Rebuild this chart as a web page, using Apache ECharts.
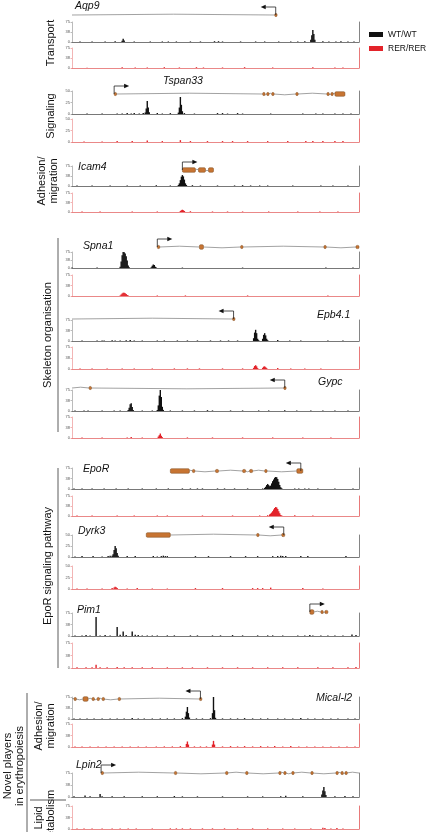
<!DOCTYPE html>
<html><head><meta charset="utf-8">
<script src="https://cdn.jsdelivr.net/npm/echarts@6/dist/echarts.min.js"></script>
<style>html,body{margin:0;padding:0;background:#fff}#c{width:430px;height:832px}</style>
</head><body><div id="c"></div>
<script>
// ---------------- DATA ----------------
const genes = ['Aqp9','Tspan33','Icam4','Spna1','Epb4.1','Gypc','EpoR','Dyrk3','Pim1','Mical-l2','Lpin2'];
// genomic window is expressed in bins 0..286
const binMax = 286;
// gene body span [from, to]
const geneSpan = [[0,203],[42,272],[110,141],[85,286],[0,161],[0,212],[98,230],[74,212],[237,255],[0,129],[29,286]];
// transcription start site [position, strand]
const geneTss = [[203,-1],[42,1],[110,1],[85,1],[161,-1],[212,-1],[228,-1],[211,-1],[237,1],[128,-1],[29,1]];
// exons [start, end, thick]
const geneExons = [
  [[202,204,0]],
  [[42,44,0],[190,192,0],[194,196,0],[199,201,0],[223,225,0],[254,256,0],[258,260,0],[262,272,1]],
  [[110,123,1],[126,133,1],[136,141,1]],
  [[85,87,0],[127,131,1],[168,170,0],[251,253,0],[283,286,0]],
  [[160,162,0]],
  [[17,18,0],[211,213,0]],
  [[98,117,1],[120,122,0],[143,146,0],[170,173,0],[177,180,0],[192,194,0],[224,230,1]],
  [[74,98,1],[184,186,0],[209,212,0]],
  [[237,241,1],[248,249,0],[252,255,0]],
  [[2,4,0],[11,16,1],[20,21,0],[25,26,0],[30,31,0],[46,47,0],[127,129,0]],
  [[29,31,0],[102,104,0],[153,154,0],[173,175,0],[206,207,0],[211,213,0],[219,220,0],[238,239,0],[263,264,0],[268,269,0],[272,273,0]]
];
const yMax = [75,50,75,75,75,75,75,50,75,75,75];
const tickLabels75 = ['0','38','75'];
const tickLabels50 = ['0','25','50'];
const seriesNames = ['WT/WT','RER/RER'];

// signal [bin, value]
const aqp9WT = [[8,2],[20,2],[33,2],[43,3],[50,5],[51,12],[52,6],[62,2],[78,2],[90,2],[96,2],[104,2],[118,2],[128,2],[142,3],[146,3],[150,2],[168,2],[183,2],[192,2],[206,2],[218,2],[225,2],[232,3],[238,8],[239,25],[240,45],[241,30],[242,8],[250,3],[256,2],[263,2],[268,3],[275,2],[281,2]];
const aqp9RER = [[15,1],[50,3],[63,2],[75,2],[92,3],[107,2],[124,3],[131,2],[150,2],[172,3],[200,2],[240,3],[262,2],[270,2]];
const tspan33WT = [[15,1],[30,1],[45,1],[50,1],[55,2],[59,1],[62,2],[67,1],[71,2],[73,3],[74,12],[75,28],[76,14],[77,4],[85,2],[90,1],[98,2],[106,3],[107,14],[108,37],[109,20],[110,6],[112,2],[122,1],[145,2],[150,2],[155,1],[165,2],[170,1],[198,1],[230,1],[243,1],[250,1],[262,1],[270,1],[278,1]];
const tspan33RER = [[12,1],[30,1],[45,2],[60,2],[75,3],[90,2],[108,4],[118,2],[135,2],[150,2],[160,2],[175,2],[195,2],[215,2],[233,2],[240,2],[250,2],[262,2],[270,2]];
const icam4WT = [[5,2],[20,2],[38,2],[55,2],[68,2],[84,3],[98,2],[106,4],[107,10],[108,22],[109,35],[110,41],[111,36],[112,24],[113,10],[114,4],[120,3],[128,2],[145,2],[162,2],[170,3],[178,2],[187,2],[195,2],[220,2],[248,2],[260,2],[275,2]];
const icam4RER = [[10,2],[28,2],[60,2],[85,2],[108,4],[109,7],[110,9],[111,7],[112,4],[118,3],[140,2],[155,2],[170,2],[196,2],[225,2],[247,2],[265,2]];
const spna1WT = [[0,2],[25,2],[48,6],[49,30],[50,60],[51,75],[52,74],[53,68],[54,55],[55,35],[56,12],[57,4],[79,4],[80,10],[81,16],[82,14],[83,6],[84,2],[110,2],[170,2],[253,2],[280,2]];
const spna1RER = [[48,2],[49,5],[50,9],[51,12],[52,12],[53,10],[54,7],[55,4],[56,2],[85,2],[113,2],[175,2],[255,2]];
const epb41WT = [[10,2],[25,2],[30,2],[32,2],[40,3],[43,2],[48,2],[54,3],[58,4],[62,2],[70,2],[85,2],[92,2],[105,2],[115,2],[125,2],[138,2],[148,2],[156,2],[165,2],[181,10],[182,30],[183,40],[184,28],[185,8],[186,3],[190,8],[191,22],[192,28],[193,20],[194,8],[195,3],[205,4],[217,2],[228,2],[255,2],[270,2]];
const epb41RER = [[8,2],[20,2],[35,2],[50,2],[62,2],[80,2],[102,2],[115,2],[127,2],[150,2],[170,2],[181,4],[182,10],[183,13],[184,9],[185,3],[190,4],[191,8],[192,9],[193,6],[194,3],[205,3],[218,2],[232,2],[248,2]];
const gypcWT = [[3,2],[12,2],[16,2],[30,2],[42,2],[48,2],[56,4],[57,12],[58,24],[59,28],[60,14],[61,4],[70,2],[80,2],[85,4],[86,20],[87,55],[88,75],[89,50],[90,15],[91,4],[98,2],[110,2],[122,2],[135,3],[140,2],[158,2],[170,2],[186,2],[196,2],[212,3],[224,2],[238,2],[250,2],[262,2],[275,2]];
const gypcRER = [[10,2],[30,2],[55,2],[59,4],[70,2],[86,5],[87,10],[88,16],[89,8],[90,3],[115,2],[140,2],[170,2],[200,2],[230,2],[258,2]];
const eporWT = [[2,2],[10,2],[20,2],[32,2],[44,2],[56,2],[70,2],[84,2],[96,2],[110,2],[118,2],[125,2],[130,2],[145,2],[152,2],[162,2],[175,2],[190,2],[192,4],[193,8],[194,14],[195,18],[196,14],[197,10],[198,12],[199,20],[200,28],[201,34],[202,40],[203,43],[204,42],[205,36],[206,26],[207,14],[208,6],[209,3],[222,2],[226,2],[232,2],[236,2],[245,2],[262,2],[280,2]];
const eporRER = [[5,2],[20,2],[45,2],[62,2],[85,2],[95,2],[130,2],[160,2],[187,2],[195,3],[197,6],[198,9],[199,13],[200,18],[201,24],[202,30],[203,34],[204,32],[205,26],[206,18],[207,10],[208,4],[209,2],[222,3],[240,2]];
const dyrk3WT = [[3,1],[10,2],[21,2],[30,1],[36,2],[38,3],[40,3],[41,6],[42,16],[43,25],[44,20],[45,9],[46,3],[55,2],[63,2],[81,2],[85,1],[89,2],[91,3],[93,2],[95,2],[123,2],[136,2],[158,2],[173,2],[185,2],[200,2],[205,2],[208,3],[210,2],[213,2],[228,2],[235,2],[273,2]];
const dyrk3RER = [[5,1],[15,1],[30,1],[40,2],[42,3],[43,5],[44,4],[45,2],[55,1],[65,2],[80,1],[95,1],[123,2],[150,2],[180,2],[185,2],[190,2],[198,3],[230,2],[250,1]];
const pim1WT = [[3,2],[10,2],[14,3],[18,2],[24,62],[28,2],[33,3],[38,2],[45,29],[48,4],[51,15],[54,3],[60,15],[63,4],[66,3],[70,2],[75,2],[80,2],[85,2],[95,2],[102,2],[118,2],[125,2],[140,2],[148,2],[160,3],[170,2],[185,2],[195,2],[200,2],[210,2],[225,2],[232,2],[237,3],[240,2],[248,2],[255,2],[262,2],[270,2],[279,5],[283,3]];
const pim1RER = [[5,2],[14,2],[20,2],[24,10],[28,2],[35,2],[45,3],[52,2],[60,2],[70,2],[80,2],[95,2],[110,2],[120,2],[135,2],[150,2],[165,2],[180,2],[195,2],[210,2],[225,2],[245,2],[260,2],[275,2],[283,3]];
const micalWT = [[2,2],[8,2],[15,2],[22,2],[30,2],[38,2],[45,2],[52,2],[60,3],[66,2],[72,2],[80,2],[88,2],[95,2],[102,2],[110,3],[113,8],[114,25],[115,41],[116,20],[117,5],[124,2],[130,2],[138,3],[140,20],[141,75],[142,30],[143,4],[150,2],[158,2],[165,2],[172,3],[180,2],[188,2],[195,2],[205,2],[212,2],[220,2],[228,3],[235,2],[242,2],[250,2],[258,2],[265,2],[275,2],[282,2]];
const micalRER = [[3,2],[10,2],[18,2],[26,2],[34,2],[42,2],[50,2],[58,2],[66,2],[74,2],[84,2],[92,2],[100,2],[108,3],[114,10],[115,18],[116,8],[122,2],[128,2],[134,2],[140,8],[141,20],[142,8],[150,2],[158,3],[165,2],[172,3],[180,2],[188,3],[195,2],[202,3],[210,2],[218,3],[226,2],[234,2],[242,2],[250,2],[258,2],[266,2],[274,2],[282,2]];
const lpin2WT = [[2,2],[13,5],[18,2],[28,9],[30,2],[40,2],[52,2],[70,2],[85,2],[102,3],[110,2],[125,2],[150,2],[175,2],[190,2],[208,2],[213,4],[230,2],[249,8],[250,20],[251,31],[252,18],[253,6],[262,2],[272,3],[280,2]];
const lpin2RER = [[5,2],[12,2],[20,2],[30,2],[40,2],[48,2],[56,2],[64,2],[80,2],[98,2],[104,2],[110,2],[118,2],[130,2],[140,2],[152,2],[165,2],[180,2],[195,2],[210,2],[222,2],[238,2],[250,4],[252,3],[258,2],[264,3],[270,2]];

const wtData = [aqp9WT,tspan33WT,icam4WT,spna1WT,epb41WT,gypcWT,eporWT,dyrk3WT,pim1WT,micalWT,lpin2WT];
const rerData = [aqp9RER,tspan33RER,icam4RER,spna1RER,epb41RER,gypcRER,eporRER,dyrk3RER,pim1RER,micalRER,lpin2RER];

// ---------------- LAYOUT (pixels) ----------------
const PLOT_LEFT = 72, PLOT_W = 287;
const layout = [
  {g:15,  wt:[22,42],  rer:[48,68],  lx:75,  ly:7},
  {g:94,  wt:[91,114], rer:[119,142],lx:163, ly:82},
  {g:170, wt:[166,186],rer:[193,212],lx:78,  ly:168},
  {g:247, wt:[252,268],rer:[275,296],lx:83,  ly:247},
  {g:319, wt:[320,341],rer:[347,369],lx:317, ly:316},
  {g:388, wt:[390,411],rer:[417,438],lx:318, ly:383},
  {g:471, wt:[468,489],rer:[496,516],lx:83,  ly:470},
  {g:535, wt:[535,557],rer:[566,589],lx:78,  ly:532},
  {g:612, wt:[613,636],rer:[643,668],lx:77,  ly:611},
  {g:699, wt:[697,719],rer:[724,747],lx:316, ly:699},
  {g:773, wt:[773,797],rer:[806,829],lx:76,  ly:766}
];
const BLACK = '#111', RED = '#e3232a';
const EXON_FILL = '#c77432', EXON_STROKE = '#7d4a1e', LINE_GRAY = '#8a8a8a';

const grid = [], xAxis = [], yAxis = [], series = [];

function intronSegments(i){
  const span = geneSpan[i];
  const ex = geneExons[i].slice().sort((a,b)=>a[0]-b[0]);
  const segs = [];
  let cur = span[0], k = 1;
  ex.forEach(e => { if (e[0] > cur) { segs.push([cur, e[0], k]); k = -k; } cur = Math.max(cur, e[1]); });
  if (span[1] > cur) segs.push([cur, span[1], k]);
  return segs;
}

genes.forEach((name, i) => {
  const L = layout[i];
  // gene model grid
  let gi = grid.length;
  grid.push({left:PLOT_LEFT, width:PLOT_W, top:L.g-8, height:16});
  xAxis.push({gridIndex:gi, type:'value', min:0, max:binMax, show:false});
  yAxis.push({gridIndex:gi, type:'value', min:-1, max:1, show:false});
  let yi = yAxis.length - 1;
  series.push({
    type:'custom', xAxisIndex:gi, yAxisIndex:yi, clip:false, silent:true,
    data: intronSegments(i),
    encode:{x:[0,1]},
    renderItem:(p, api) => {
      const a = api.coord([api.value(0),0]), b = api.coord([api.value(1),0]);
      const bump = api.value(2) * 1.6;
      return {type:'bezierCurve', shape:{x1:a[0],y1:a[1],x2:b[0],y2:b[1],cpx1:(a[0]+b[0])/2,cpy1:a[1]-bump},
              style:{stroke:LINE_GRAY, lineWidth:0.8, fill:null}};
    }
  });
  series.push({
    type:'custom', xAxisIndex:gi, yAxisIndex:yi, clip:false, silent:true,
    data: geneExons[i], encode:{x:[0,1]},
    renderItem:(p, api) => {
      const a = api.coord([api.value(0),0]), b = api.coord([api.value(1),0]);
      const h = api.value(2) ? 4.6 : 3.2;
      const w = Math.max(b[0]-a[0], 2.4);
      return {type:'rect', shape:{x:a[0], y:a[1]-h/2, width:w, height:h, r:1.2},
              style:{fill:EXON_FILL, stroke:EXON_STROKE, lineWidth:0.5}};
    }
  });
  series.push({
    type:'custom', xAxisIndex:gi, yAxisIndex:yi, clip:false, silent:true,
    data: [geneTss[i]], encode:{x:0},
    renderItem:(p, api) => {
      const a = api.coord([api.value(0),0]);
      const s = api.value(1);
      const top = a[1]-8, len = 11;
      const tipX = a[0] + s*(len+4);
      return {type:'group', children:[
        {type:'polyline', shape:{points:[[a[0],a[1]],[a[0],top],[a[0]+s*len,top]]}, style:{stroke:'#222', lineWidth:0.8, fill:null}},
        {type:'polygon', shape:{points:[[tipX,top],[tipX-s*5,top-2.2],[tipX-s*5,top+2.2]]}, style:{fill:'#111'}}
      ]};
    }
  });

  // signal tracks
  [[L.wt, wtData[i], BLACK, '#555', '#777', seriesNames[0]], [L.rer, rerData[i], RED, '#e56a6a', '#e56a6a', seriesNames[1]]].forEach(t => {
    const [yr, data, col, baseCol, sideCol, sname] = t;
    const g2 = grid.length;
    grid.push({left:PLOT_LEFT, width:PLOT_W, top:yr[0], height:yr[1]-yr[0]});
    xAxis.push({gridIndex:g2, type:'value', min:0, max:binMax,
      axisLine:{show:true, onZero:false, lineStyle:{color:baseCol, width:0.8}},
      axisTick:{show:false}, axisLabel:{show:false}, splitLine:{show:false}});
    const labels = yMax[i] === 50 ? tickLabels50 : tickLabels75;
    yAxis.push({gridIndex:g2, type:'value', min:0, max:yMax[i], interval:yMax[i]/2,
      axisLine:{show:true, lineStyle:{color:sideCol, width:0.5}},
      axisTick:{show:true, length:1.5, lineStyle:{color:sideCol, width:0.5}},
      axisLabel:{show:true, fontSize:4, margin:2, color:'#555', fontFamily:'Liberation Sans',
        formatter:(v, idx) => labels[idx] ?? ''},
      splitLine:{show:false}});
    const yL = yAxis.length - 1;
    yAxis.push({gridIndex:g2, type:'value', position:'right', min:0, max:yMax[i],
      axisLine:{show:true, lineStyle:{color:sideCol, width:0.9}},
      axisTick:{show:false}, axisLabel:{show:false}, splitLine:{show:false}});
    series.push({type:'bar', name:sname, xAxisIndex:g2, yAxisIndex:yL, data:data,
      barWidth:1.4, itemStyle:{color:col}, silent:true, clip:true});
  });
});

// ---------------- TEXT / ANNOTATION ----------------
const FONT = 'Liberation Sans';
const graphics = [];
genes.forEach((name, i) => {
  graphics.push({type:'text', left:layout[i].lx, top:layout[i].ly-6, silent:true,
    style:{text:name, font:'italic 10.5px "Liberation Sans"', fill:'#111'}});
});
function vtext(txt, cx, cy, size){
  graphics.push({type:'text', x:cx, y:cy, rotation:Math.PI/2, silent:true,
    style:{text:txt, font:(size||11)+'px "Liberation Sans"', fill:'#111', align:'center', verticalAlign:'middle', lineHeight:12}});
}
vtext('Transport', 51, 43);
vtext('Signaling', 51, 116);
vtext('Adhesion/\nmigration', 48, 181);
vtext('Skeleton organisation', 48, 335);
vtext('EpoR signaling pathway', 48, 566);
vtext('Novel players\nin erythropoiesis', 14, 766);
vtext('Adhesion/\nmigration', 45, 726);
vtext('Lipid\nmetabolism', 45, 818);
function vline(x, y1, y2){ graphics.push({type:'line', silent:true, shape:{x1:x,y1:y1,x2:x,y2:y2}, style:{stroke:'#333', lineWidth:0.8}}); }
function hline(x1, x2, y){ graphics.push({type:'line', silent:true, shape:{x1:x1,y1:y,x2:x2,y2:y}, style:{stroke:'#333', lineWidth:0.8}}); }
vline(58, 238, 432);
vline(58, 468, 668);
vline(27, 693, 832);
hline(30, 66, 800);

const chart = echarts.init(document.getElementById('c'), null, {renderer:'canvas'});
chart.setOption({
  animation:false,
  backgroundColor:'#fff',
  legend:{data:[{name:seriesNames[0], itemStyle:{color:BLACK}}, {name:seriesNames[1], itemStyle:{color:RED}}],
    orient:'vertical', left:369, top:30, itemWidth:14, itemHeight:5, itemGap:5, icon:'rect',
    selectedMode:false, padding:0,
    textStyle:{fontSize:8.5, fontFamily:FONT, color:'#111'}},
  grid, xAxis, yAxis, series, graphic:graphics
});
</script></body></html>
